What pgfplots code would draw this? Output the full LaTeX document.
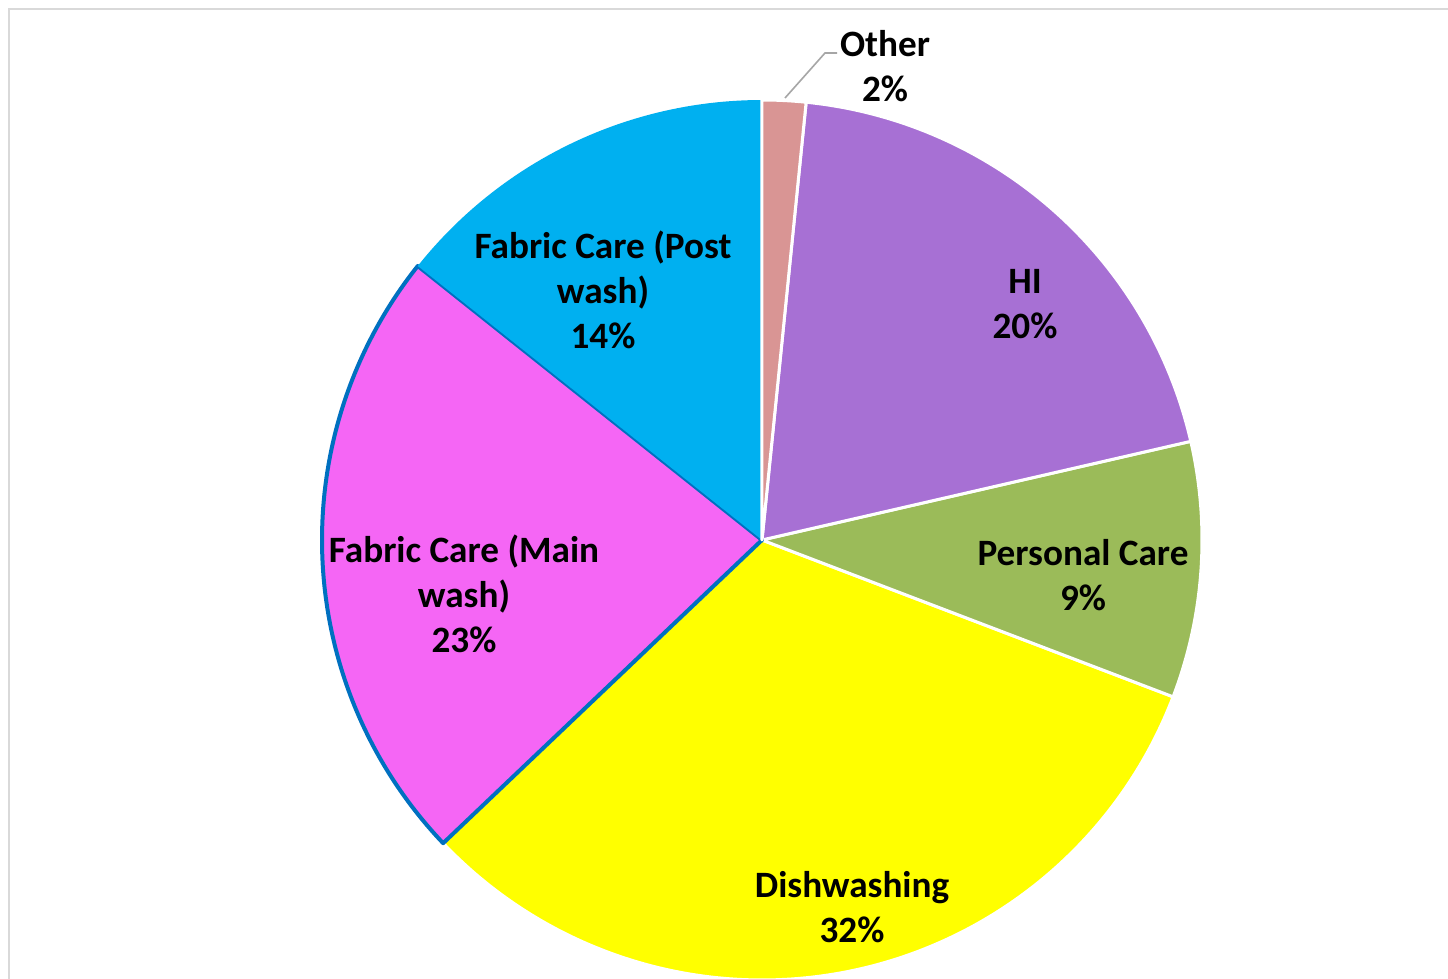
\documentclass[border=0pt]{standalone}
\usepackage{pgfplots}
\pgfplotsset{compat=1.18}
\usepgfplotslibrary{polar}
\usepackage{fontspec}
\setmainfont{Carlito}
\definecolor{cOther}{HTML}{D99594}
\definecolor{cHI}{HTML}{A770D4}
\definecolor{cPC}{HTML}{9BBB59}
\definecolor{cDish}{HTML}{FFFF00}
\definecolor{cMain}{HTML}{F566F5}
\definecolor{cPost}{HTML}{00B0F0}
\definecolor{cMainEdge}{HTML}{0070C0}
\definecolor{cFrame}{HTML}{D9D9D9}
\definecolor{cLeader}{HTML}{A6A6A6}
% slice: #1 cumulative share before the slice (%), #2 share (%), #3 style
\newcommand{\pieslice}[3]{%
  \pgfmathsetmacro\angA{90-3.6*(#1+#2)}%
  \pgfmathsetmacro\angB{90-3.6*(#1)}%
  \edef\temp{\noexpand\addplot[#3, domain=\angA:\angB, samples=150] {1} -- (axis cs:0,0) -- cycle;}%
  \temp}
\begin{document}
\begin{tikzpicture}
\useasboundingbox (0,0) rectangle (724pt,489.5pt);
\fill[white] (0,0) rectangle (724pt,489.5pt);
\draw[cFrame, line width=1.2pt] (4.5pt,-10pt) -- (4.5pt,485pt) -- (740pt,485pt);
\begin{polaraxis}[
  at={(381pt,219.5pt)}, anchor=origin,
  scale only axis, width=440pt, height=440pt,
  ymin=0, ymax=1, hide axis, clip=false,
]
% shares: Other 1.6, HI 19.8, Personal Care 9.4, Dishwashing 32.1, Fabric Care (Main wash) 22.8, Fabric Care (Post wash) 14.3
\pieslice{30.8}{32.1}{fill=cDish, draw=white, line width=1.5pt, line join=round}
\pieslice{21.4}{9.4}{fill=cPC, draw=white, line width=1.5pt, line join=round}
\pieslice{1.6}{19.8}{fill=cHI, draw=white, line width=1.5pt, line join=round}
\pieslice{62.9}{22.8}{fill=cMain, draw=cMainEdge, line width=2pt, line join=round}
\pieslice{85.7}{14.3}{fill=cPost, draw=none}
\pieslice{0}{1.6}{fill=cOther, draw=white, line width=1.5pt, line join=round}
\end{polaraxis}
\draw[cLeader, line width=0.8pt] (392.5pt,440.5pt) -- (412.5pt,463pt) -- (418.5pt,463pt);
\begin{scope}[every node/.style={align=center, inner sep=0pt, font=\bfseries\fontsize{18.6}{22.5}\selectfont}]
\node at (442.5pt,456.5pt) {Other\\2\%};
\node at (512.5pt,337.25pt) {HI\\20\%};
\node at (541.5pt,201.75pt) {Personal Care\\9\%};
\node at (426pt,35.75pt) {Dishwashing\\32\%};
\node at (232pt,192.5pt) {Fabric Care (Main\\wash)\\23\%};
\node at (301.5pt,344.5pt) {Fabric Care (Post\\wash)\\14\%};
\end{scope}
\end{tikzpicture}
\end{document}
